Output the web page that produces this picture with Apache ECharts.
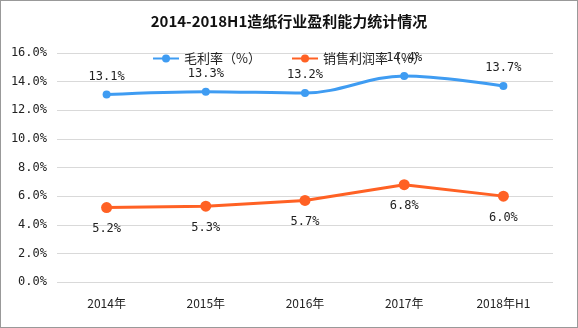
<!DOCTYPE html>
<html><head><meta charset="utf-8">
<script src="https://cdn.jsdelivr.net/npm/echarts@6/dist/echarts.min.js"></script>
<style>html,body{margin:0;padding:0;background:#fff}#c{width:576px;height:326px;border:1px solid #999}</style>
</head><body><div id="c"></div>
<script>
const categories = ['2014年','2015年','2016年','2017年','2018年H1'];
const grossMargin = [13.1, 13.3, 13.2, 14.4, 13.7];
const salesMargin = [5.2, 5.3, 5.7, 6.8, 6.0];
const chart = echarts.init(document.getElementById('c'));
const lbl = {show:true, fontFamily:'DejaVu Sans Mono, monospace', fontSize:12, color:'#222', formatter: p => p.value.toFixed(1)+'%'};
chart.setOption({
  animation:false,
  title:{text:'2014-2018H1造纸行业盈利能力统计情况', left:'center', top:8,
    textStyle:{fontFamily:'Noto Sans CJK SC', fontSize:15, fontWeight:'bold', color:'#111'}},
  legend:{top:46, left:'center', itemWidth:26, itemHeight:10, itemGap:30,
    textStyle:{fontFamily:'Noto Sans CJK SC', fontSize:13, color:'#222'},
    data:['毛利率（%）','销售利润率（%）']},
  grid:{left:56, right:24, top:52, bottom:45},
  xAxis:{type:'category', data:categories, axisLine:{show:false}, axisTick:{show:false},
    axisLabel:{fontFamily:'Noto Sans CJK SC', fontSize:12, color:'#222', margin:15}},
  yAxis:{type:'value', min:0, max:16, interval:2,
    axisLabel:{formatter: v => v.toFixed(1)+'%', fontFamily:'DejaVu Sans Mono, monospace', fontSize:12, color:'#222', margin:10},
    splitLine:{lineStyle:{color:'#d9d9d9'}}},
  series:[
    {name:'毛利率（%）', type:'line', data:grossMargin, smooth:0.35, symbol:'circle', symbolSize:8,
      itemStyle:{color:'#3f9cf2'}, lineStyle:{width:3, color:'#3f9cf2'},
      label:Object.assign({position:'top', distance:8}, lbl)},
    {name:'销售利润率（%）', type:'line', data:salesMargin, symbol:'circle', symbolSize:11,
      itemStyle:{color:'#ff6124'}, lineStyle:{width:3, color:'#ff6124'},
      label:Object.assign({position:'bottom', distance:10}, lbl)}
  ]
});
</script></body></html>
